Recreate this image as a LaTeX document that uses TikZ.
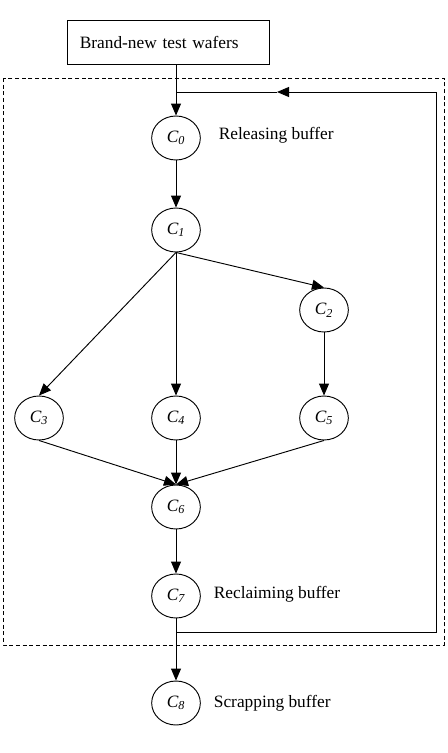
\documentclass[tikz,border=0pt]{standalone}
\usepackage{fontspec}
\setmainfont{Liberation Serif}
\usetikzlibrary{shapes.geometric,arrows.meta}
\tikzset{
  every node/.style={font=\fontsize{13}{15}\selectfont},
  buf/.style={draw, ellipse, minimum width=36.5pt, minimum height=33pt, inner sep=0pt, font=\fontsize{13}{15}\selectfont\itshape},
  flow/.style={-{Triangle[length=9pt,width=7.5pt]}}
}
\begin{document}
\begin{tikzpicture}[x=0.75pt,y=-0.75pt,line width=0.7pt]
\useasboundingbox (0,0) rectangle (448,753);
\draw[dashed,dash pattern=on 3pt off 2pt] (3,78) rectangle (444,645);
\node[draw, text width=133pt, align=left, inner xsep=9.5pt, minimum height=33pt] (new) at (168.5,42) {Brand-new test wafers};
\node[buf] (c0) at (176,138) {C\textsubscript{0}};
\node[buf] (c1) at (176,230) {C\textsubscript{1}};
\node[buf] (c2) at (324,310) {C\textsubscript{2}};
\node[buf] (c3) at (39,418) {C\textsubscript{3}};
\node[buf] (c4) at (176,418) {C\textsubscript{4}};
\node[buf] (c5) at (324,418) {C\textsubscript{5}};
\node[buf] (c6) at (176,507) {C\textsubscript{6}};
\node[buf] (c7) at (176,596) {C\textsubscript{7}};
\node[buf] (c8) at (176,703) {C\textsubscript{8}};
\node[anchor=west] (l0) at (214,135) {Releasing buffer};
\node[anchor=west] (l7) at (209,594) {Reclaiming buffer};
\node[anchor=west] (l8) at (209,703) {Scrapping buffer};
\coordinate (fb1) at (176,632);
\coordinate (fb2) at (436,632);
\coordinate (fb3) at (436,92);
\coordinate (fbm) at (277,92);
\coordinate (fb4) at (176,92);
\draw[flow] (c0 |- new.south) -- (c0);
\draw[flow] (c0) -- (c1);
\draw[flow] (c1.south) -- (c2.north);
\draw[flow] (c1.south) -- (c3.north);
\draw[flow] (c1.south) -- (c4.north);
\draw[flow] (c2) -- (c5);
\draw[flow] (c3.south) -- (c6.north);
\draw[flow] (c4) -- (c6);
\draw[flow] (c5.south) -- (c6.north);
\draw[flow] (c6) -- (c7);
\draw[flow] (c7) -- (c8);
\draw (fb1) -- (fb2) -- (fb3);
\draw[flow] (fb3) -- (fbm);
\draw (fbm) -- (fb4);
\end{tikzpicture}
\end{document}
